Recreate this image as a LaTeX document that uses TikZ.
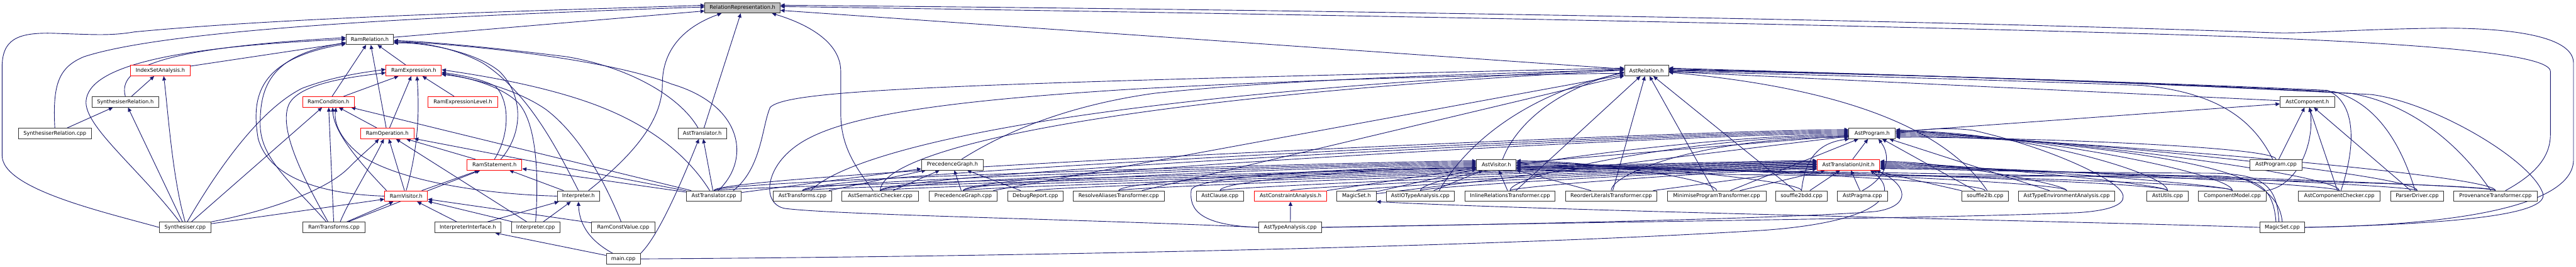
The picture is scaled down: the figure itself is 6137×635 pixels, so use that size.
\documentclass[tikz,border=0pt]{standalone}
\usepackage{fontspec}
\newfontfamily\doxf{DejaVu Sans}
\usetikzlibrary{arrows.meta,calc}
\definecolor{doxblue}{RGB}{25,25,112}
\definecolor{rootgray}{RGB}{191,191,191}
\pgfdeclarelayer{edgelayer}
\pgfsetlayers{edgelayer,main}
\newcommand{\doxfont}{\doxf\fontsize{6.2pt}{7pt}\selectfont}
\tikzset{
  nb/.style={draw=black!80, line width=0.7pt, fill=white, minimum height=12.5pt, inner sep=0pt, font=\doxfont},
  rb/.style={nb, draw=red},
  gb/.style={nb, fill=rootgray},
  bw/.style={minimum width=#1*0.5pt},
  edg/.style={draw=doxblue, line width=0.68pt, -{Triangle[length=5pt,width=4.5pt]}},
}
\begin{document}
\begin{tikzpicture}[x=0.5pt,y=-0.5pt]
\useasboundingbox (0,0) rectangle (6137,635);
% ---------------- nodes ----------------
\node[gb,bw=179] (relrep) at (1769,18.5) {RelationRepresentation.h};
\node[nb,bw=113] (ramrel) at (881,93.5) {RamRelation.h};
\node[rb,bw=142] (isa) at (382,168) {IndexSetAnalysis.h};
\node[rb,bw=132] (ramexpr) at (985.5,168) {RamExpression.h};
\node[nb,bw=105] (astrel) at (3922.5,168) {AstRelation.h};
\node[nb,bw=158] (synrelh) at (298.6,242.5) {SynthesiserRelation.h};
\node[rb,bw=123] (ramcond) at (782.5,242.5) {RamCondition.h};
\node[rb,bw=166] (ramexprlvl) at (1102.8,242.5) {RamExpressionLevel.h};
\node[nb,bw=130] (astcomp) at (5497,242.5) {AstComponent.h};
\node[nb,bw=174] (synrelcpp) at (130.6,317.5) {SynthesiserRelation.cpp};
\node[rb,bw=127] (ramop) at (922.5,317.5) {RamOperation.h};
\node[nb,bw=115] (asttrh) at (1673,317.5) {AstTranslator.h};
\node[nb,bw=111] (astprog) at (4460.2,317.5) {AstProgram.h};
\node[rb,bw=131] (ramstmt) at (1178,392) {RamStatement.h};
\node[nb,bw=147] (precg) at (2269,392) {PrecedenceGraph.h};
\node[nb,bw=94] (astvis) at (3564.8,392) {AstVisitor.h};
\node[rb,bw=149] (tu) at (4403.7,392) {AstTranslationUnit.h};
\node[nb,bw=125] (astprogcpp) at (5422.3,392) {AstProgram.cpp};
\node[rb,bw=102] (ramvis) at (967.6,466.6) {RamVisitor.h};
\node[nb,bw=101] (interph) at (1378,466.6) {Interpreter.h};
\node[nb,bw=131] (asttrcpp) at (1700.8,466.6) {AstTranslator.cpp};
\node[nb,bw=140] (asttrans) at (1911.8,466.6) {AstTransforms.cpp};
\node[nb,bw=183] (astsem) at (2097,466.6) {AstSemanticChecker.cpp};
\node[nb,bw=162] (precgcpp) at (2294.6,466.6) {PrecedenceGraph.cpp};
\node[nb,bw=132] (debug) at (2466.5,466.6) {DebugReport.cpp};
\node[nb,bw=217] (resolve) at (2665,466.6) {ResolveAliasesTransformer.cpp};
\node[nb,bw=113] (astclause) at (2906.4,466.6) {AstClause.cpp};
\node[rb,bw=172] (astca) at (3074.6,466.6) {AstConstraintAnalysis.h};
\node[nb,bw=94] (magich) at (3231.7,466.6) {MagicSet.h};
\node[nb,bw=162] (astio) at (3383.7,466.6) {AstIOTypeAnalysis.cpp};
\node[nb,bw=214] (inline) at (3597.3,466.6) {InlineRelationsTransformer.cpp};
\node[nb,bw=218] (reorder) at (3838.5,466.6) {ReorderLiteralsTransformer.cpp};
\node[nb,bw=235] (minimise) at (4089.7,466.6) {MinimiseProgramTransformer.cpp};
\node[nb,bw=122] (s2bdd) at (4291.9,466.6) {souffle2bdd.cpp};
\node[nb,bw=119] (pragma) at (4437,466.6) {AstPragma.cpp};
\node[nb,bw=110] (s2lb) at (4729.3,466.6) {souffle2lb.cpp};
\node[nb,bw=229] (typeenv) at (4923.5,466.6) {AstTypeEnvironmentAnalysis.cpp};
\node[nb,bw=99] (astutils) at (5164,466.6) {AstUtils.cpp};
\node[nb,bw=162] (compmodel) at (5318.3,466.6) {ComponentModel.cpp};
\node[nb,bw=195] (compcheck) at (5573,466.6) {AstComponentChecker.cpp};
\node[nb,bw=126] (parser) at (5758.5,466.6) {ParserDriver.cpp};
\node[nb,bw=198] (prov) at (5945,466.6) {ProvenanceTransformer.cpp};
\node[nb,bw=123] (syncpp) at (441,541) {Synthesiser.cpp};
\node[nb,bw=147] (ramtrans) at (795.5,541) {RamTransforms.cpp};
\node[nb,bw=158] (interpiface) at (1114.5,541) {InterpreterInterface.h};
\node[nb,bw=115] (interpcpp) at (1276,541) {Interpreter.cpp};
\node[nb,bw=150] (ramconst) at (1484.8,541) {RamConstValue.cpp};
\node[nb,bw=150] (asttype) at (3074,541) {AstTypeAnalysis.cpp};
\node[nb,bw=107] (magiccpp) at (5437.2,541) {MagicSet.cpp};
\node[nb,bw=81] (main) at (1485,616) {main.cpp};
% ---------------- edges ----------------
\begin{pgfonlayer}{edgelayer}
\foreach \src/\tgt in {ramrel/relrep, asttrh/relrep, astrel/relrep, isa/ramrel, ramcond/ramrel, ramop/ramrel, ramexpr/ramrel,
  ramcond/ramexpr, ramop/ramexpr, ramexprlvl/ramexpr, ramop/ramcond, ramtrans/ramcond, syncpp/ramcond, asttrcpp/ramcond,
  ramvis/ramop, ramstmt/ramop, interpcpp/ramop, asttrcpp/ramop, syncpp/ramvis, ramtrans/ramvis, interpiface/ramvis,
  interpcpp/ramvis, ramconst/ramvis, ramvis/ramstmt, ramtrans/ramstmt, interph/ramstmt, asttrcpp/ramstmt,
  interpiface/interph, interpcpp/interph, main/interpiface, asttrcpp/asttrh, synrelh/isa, synrelcpp/synrelh,
  syncpp/synrelh, asttype/astca,
  astprog/astcomp, astcomp/astrel, tu/astprog, astvis/astprog, inline/astrel, reorder/astrel, minimise/astrel,
  s2bdd/astrel, resolve/astrel, precgcpp/astrel, astprogcpp/astcomp, compcheck/astcomp, parser/astcomp,
  astsem/precg, precgcpp/precg, debug/precg, asttrcpp/precg, asttrans/precg,
  astca/astvis, magich/astvis, astio/astvis, inline/astvis, reorder/astvis,
  minimise/tu, s2bdd/tu, pragma/tu, s2lb/tu, reorder/tu,
  minimise/astprog, s2lb/astprog, typeenv/astprog, magich/astprog}
  \draw[edg] (\src) -- (\tgt);
% RelationRepresentation.h
\draw[edg] (synrelcpp.north) .. controls (125,200) and (140,160) .. (200,135) .. controls (400,70) and (1000,40) .. ($(relrep.west)+(0,-2)$);
\draw[edg] (syncpp.west) .. controls (250,505) and (5,450) .. (5,370) -- (5,160) .. controls (5,95) and (40,78) .. (120,79) .. controls (220,82) and (260,86) .. (320,76) .. controls (700,40) and (1300,25) .. ($(relrep.west)+(0,-6)$);
\draw[edg] ($(interph.north)+(24,0)$) .. controls (1520,360) and (1578,280) .. (1578,200) .. controls (1578,110) and (1640,60) .. ($(relrep.south)+(-50,0)$);
\draw[edg] ($(astsem.north)+(-17,0)$) .. controls (2040,400) and (2003,350) .. (2003,270) -- (2003,170) .. controls (2003,90) and (1900,50) .. ($(relrep.south)+(70,0)$);
\draw[edg] (magiccpp.east) .. controls (5900,535) and (6131,480) .. (6131,380) -- (6131,150) .. controls (6131,90) and (6000,66) .. (5810,67) .. controls (5600,70) and (5500,80) .. (5420,78) .. controls (4500,45) and (3000,22) .. ($(relrep.east)+(0,-6)$);
\draw[edg] ($(prov.north)+(24,0)$) .. controls (6030,420) and (6076,380) .. (6076,320) -- (6076,170) .. controls (6076,130) and (5800,100) .. (5100,80) .. controls (4000,48) and (2500,25) .. ($(relrep.east)+(0,-3)$);
% RamRelation.h
\draw[edg] (synrelh.north) .. controls (280,160) and (380,115) .. ($(ramrel.west)+(0,-4)$);
\draw[edg] ($(syncpp.north)+(-13,0)$) .. controls (330,400) and (200,300) .. (205,240) .. controls (212,160) and (400,112) .. (ramrel.west);
\draw[edg] ($(ramtrans.north)+(-18,0)$) .. controls (700,440) and (622,380) .. (620,300) .. controls (618,200) and (650,130) .. ($(ramrel.west)+(0,8)$);
\draw[edg] (ramvis.west) .. controls (760,462) and (640,420) .. (615,330) .. controls (598,230) and (615,140) .. ($(ramrel.west)+(0,11)$);
\draw[edg] ($(asttrh.north)+(-10,0)$) .. controls (1620,230) and (1500,160) .. (1350,135) .. controls (1150,110) and (1000,98) .. ($(ramrel.east)+(0,3)$);
\draw[edg] ($(asttrcpp.north)+(10,0)$) .. controls (1790,380) and (1770,250) .. (1600,200) .. controls (1450,140) and (1100,105) .. ($(ramrel.east)+(0,5)$);
\draw[edg] (interph.north) .. controls (1330,360) and (1260,220) .. (1150,150) .. controls (1080,112) and (1000,100) .. ($(ramrel.east)+(0,7)$);
\draw[edg] ($(ramstmt.north)+(15,0)$) .. controls (1245,320) and (1250,230) .. (1190,170) .. controls (1130,120) and (1000,100) .. ($(ramrel.east)+(0,9)$);
% RamExpression.h
\draw[edg] ($(syncpp.north)+(5,0)$) .. controls (520,400) and (620,260) .. (720,210) .. controls (800,180) and (870,172) .. ($(ramexpr.west)+(0,-3)$);
\draw[edg] ($(ramtrans.north)+(-14,0)$) .. controls (720,420) and (660,300) .. (690,245) .. controls (720,195) and (850,182) .. ($(ramexpr.west)+(0,5)$);
\draw[edg] (ramvis.north) .. controls (1000,340) and (998,250) .. ($(ramexpr.south)+(8,0)$);
\draw[edg] (ramstmt.north) .. controls (1215,320) and (1215,240) .. (1180,205) .. controls (1140,185) and (1090,178) .. ($(ramexpr.east)+(0,4)$);
\draw[edg] ($(asttrcpp.north)+(-10,0)$) .. controls (1620,340) and (1500,280) .. (1420,250) .. controls (1300,205) and (1150,180) .. ($(ramexpr.east)+(0,-2)$);
\draw[edg] (interpcpp.north) .. controls (1285,400) and (1275,290) .. (1235,245) .. controls (1190,200) and (1100,182) .. ($(ramexpr.east)+(0,7)$);
\draw[edg] ($(ramconst.north)+(-5,0)$) .. controls (1440,430) and (1380,320) .. (1300,260) .. controls (1220,205) and (1100,182) .. ($(ramexpr.east)+(0,9)$);
% RamCondition.h / RamOperation.h
\draw[edg] ($(ramvis.north west)+(5,0)$) .. controls (870,400) and (795,320) .. ($(ramcond.south)+(10,0)$);
\draw[edg] (interph.west) .. controls (1150,462) and (950,430) .. (860,370) .. controls (812,332) and (795,295) .. ($(ramcond.south)+(18,0)$);
\draw[edg] ($(ramtrans.north)+(15,0)$) .. controls (830,480) and (880,400) .. ($(ramop.south)+(-8,0)$);
\draw[edg] (syncpp.north east) .. controls (650,500) and (780,450) .. (830,400) .. controls (870,360) and (890,345) .. ($(ramop.south)+(-20,0)$);
% Interpreter / AstTranslator / IndexSetAnalysis
\draw[edg] ($(main.north)+(-25,0)$) .. controls (1400,570) and (1380,530) .. (interph.south);
\draw[edg] (main.north east) .. controls (1560,570) and (1605,480) .. ($(asttrh.south)+(-8,0)$);
\draw[edg] (syncpp.north) .. controls (410,420) and (400,260) .. ($(isa.south)+(8,0)$);
% long ones to AstTranslationUnit.h / MagicSet.h
\draw[edg] (main.east) .. controls (2500,610) and (3600,585) .. (4200,548) .. controls (4480,528) and (4530,460) .. ($(tu.south)+(52,0)$);
\draw[edg] (asttype.east) .. controls (3700,532) and (4300,518) .. (4470,503) .. controls (4555,490) and (4545,440) .. ($(tu.south)+(66,0)$);
\draw[edg] (asttype.west) .. controls (2600,522) and (2000,512) .. (1870,496) .. controls (1815,486) and (1820,400) .. (1900,345) .. controls (2000,275) and (2250,240) .. (2700,212) .. controls (3200,185) and (3600,178) .. ($(astrel.west)+(0,6)$);
\draw[edg] (asttype.west) .. controls (2860,536) and (2832,500) .. (2838,452) .. controls (2845,420) and (3200,400) .. ($(astvis.west)+(0,8)$);
\draw[edg] (asttype.east) .. controls (3800,528) and (4600,520) .. (4950,506) .. controls (5045,500) and (5066,480) .. (5056,460) .. controls (5040,425) and (4880,350) .. (4700,310) .. controls (4620,300) and (4560,312) .. (astprog.east);
\draw[edg] (magiccpp.west) .. controls (5000,528) and (3700,502) .. (magich.south east);
% AstRelation.h curves
\draw[edg] ($(astvis.north)+(15,0)$) .. controls (3610,300) and (3700,215) .. ($(astrel.west)+(0,3)$);
\draw[edg] ($(astio.north)+(45,0)$) .. controls (3500,330) and (3650,220) .. ($(astrel.west)+(0,5)$);
\draw[edg] ($(s2lb.north)+(5,0)$) .. controls (4650,330) and (4450,215) .. ($(astrel.east)+(0,4)$);
\draw[edg] ($(astprogcpp.north)+(-8,0)$) .. controls (5370,290) and (5290,220) .. (5100,203) .. controls (4600,185) and (4200,175) .. ($(astrel.east)+(0,2)$);
\draw[edg] ($(compcheck.north)+(4,0)$) .. controls (5612,350) and (5615,245) .. (5545,215) .. controls (5000,190) and (4300,172) .. (astrel.east);
\draw[edg] ($(parser.north)+(-5,0)$) .. controls (5720,340) and (5660,245) .. (5560,218) .. controls (5000,190) and (4300,172) .. ($(astrel.east)+(0,-2)$);
\draw[edg] ($(prov.north)+(-11,0)$) .. controls (5870,360) and (5760,250) .. (5600,222) .. controls (5000,190) and (4300,172) .. ($(astrel.east)+(0,-4)$);
\draw[edg] (magiccpp.east) .. controls (5900,532) and (6072,505) .. (6058,460) .. controls (6030,380) and (5800,245) .. (5650,225) .. controls (5000,190) and (4300,172) .. ($(astrel.east)+(0,-6)$);
\draw[edg] ($(precg.north)+(22,0)$) .. controls (2400,310) and (2550,250) .. (2750,222) .. controls (3100,185) and (3600,174) .. ($(astrel.west)+(0,-2)$);
\draw[edg] ($(asttrcpp.north east)+(-20,0)$) .. controls (1815,400) and (1815,300) .. (1835,255) .. controls (1880,215) and (2200,200) .. ($(astrel.west)+(0,-6)$);
\draw[edg] ($(asttrans.north)+(20,0)$) .. controls (2000,380) and (2400,235) .. ($(astrel.west)+(0,-4)$);
\draw[edg] (astsem.north) .. controls (2100,360) and (2600,235) .. ($(astrel.west)+(0,-1)$);
% AstProgram.h / AstComponent.h customs
\draw[edg] (s2bdd.north) .. controls (4300,380) and (4330,340) .. ($(astprog.south)+(-55,0)$);
\draw[edg] (pragma.north) .. controls (4500,420) and (4505,370) .. ($(astprog.south)+(15,0)$);
\draw[edg] (compmodel.north east) .. controls (5480,440) and (5515,330) .. ($(astcomp.south)+(5,0)$);
\draw[edg] (astprogcpp.north) .. controls +(0,-30) and +(300,0) .. ($(astprog.east)+(0,9)$);
\draw[edg] (magiccpp.north) .. controls (5425,420) and (5300,370) .. ($(astprog.east)+(0,-9)$);
\draw[edg] ($(magiccpp.north)+(-8,0)$) .. controls (5425,430) and (5380,412) .. (5250,412) .. controls (4800,410) and (4600,402) .. ($(tu.east)+(0,9)$);
\draw[edg] ($(magiccpp.north)+(-15,0)$) .. controls (5415,435) and (5370,418) .. (5240,418) .. controls (4700,420) and (4000,420) .. ($(astvis.east)+(0,10)$);
% fans
\foreach \src/\o in {asttrcpp/-9,asttrans/-6,astsem/-3,precgcpp/0,resolve/3,astclause/6}
  \draw[edg] (\src.north) .. controls +(0,-25) and +(-200,0) .. ($(astvis.west)+(0,\o)$);
\foreach \src/\o in {minimise/-9,s2bdd/-6,s2lb/-3,typeenv/0,astutils/3,compmodel/6,prov/8}
  \draw[edg] (\src.north) .. controls +(0,-25) and +(200,0) .. ($(astvis.east)+(0,\o)$);
\foreach \src/\o in {asttrcpp/-10,asttrans/-8,astsem/-6,precgcpp/-4,debug/-2,resolve/0,astclause/2,astca/4,magich/6,astio/8,inline/10}
  \draw[edg] (\src.north) .. controls +(0,-10) and +(-150,0) .. ($(tu.west)+(0,\o)$);
\foreach \src/\o in {typeenv/-8,astutils/-5,compmodel/-2,compcheck/1,parser/4,prov/7}
  \draw[edg] (\src.north) .. controls +(0,-15) and +(150,0) .. ($(tu.east)+(0,\o)$);
\foreach \src/\o in {asttrcpp/-9,asttrans/-6,astsem/-3,precgcpp/0,astio/3,inline/6,reorder/9}
  \draw[edg] (\src.north) .. controls +(0,-40) and +(-350,0) .. ($(astprog.west)+(0,\o)$);
\foreach \src/\o in {astutils/-6,compmodel/-3,compcheck/0,parser/3,prov/6}
  \draw[edg] (\src.north) .. controls +(0,-40) and +(300,0) .. ($(astprog.east)+(0,\o)$);
\end{pgfonlayer}
\end{tikzpicture}
\end{document}
